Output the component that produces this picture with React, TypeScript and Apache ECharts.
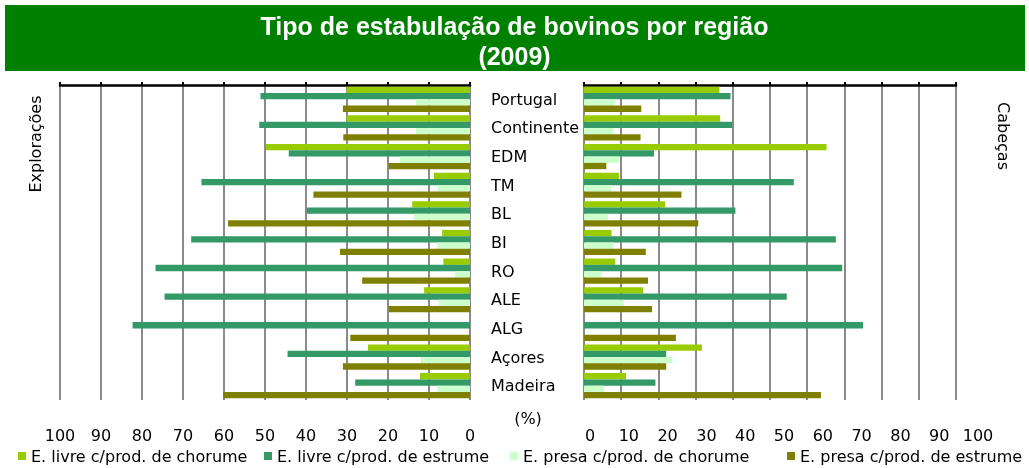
import React, { useEffect, useRef } from "react";
import * as echarts from "echarts";

const categories = ["Portugal", "Continente", "EDM", "TM", "BL", "BI", "RO", "ALE", "ALG", "Açores", "Madeira"];
const seriesNames = [
  "E. livre c/prod. de chorume",
  "E. livre c/prod. de estrume",
  "E. presa c/prod. de chorume",
  "E. presa c/prod. de estrume",
];
const colors = ["#99CC00", "#339966", "#CCFFCC", "#808000"];

// Explorações (left panel)
const exploLivreChorume = [30.1, 30.1, 49.8, 8.8, 14.1, 6.8, 6.5, 11.2, 0, 24.9, 12.2];
const exploLivreEstrume = [51.1, 51.4, 44.2, 65.5, 39.8, 68.0, 76.7, 74.5, 82.3, 44.5, 28.0];
const exploPresaChorume = [13.2, 13.2, 17.1, 7.9, 13.6, 8.0, 3.6, 7.6, 0, 12.0, 8.0];
const exploPresaEstrume = [31.0, 30.9, 19.8, 38.2, 59.0, 31.7, 26.3, 19.8, 29.2, 31.0, 60.2];

// Cabeças (right panel)
const cabLivreChorume = [36.4, 36.6, 65.2, 9.4, 21.8, 7.4, 8.4, 15.9, 0, 31.7, 11.3];
const cabLivreEstrume = [39.4, 39.8, 18.8, 56.4, 40.7, 67.7, 69.4, 54.5, 75.0, 22.1, 19.2];
const cabPresaChorume = [8.4, 8.0, 9.4, 7.4, 6.5, 8.0, 4.6, 10.7, 0, 23.8, 5.4];
const cabPresaEstrume = [15.4, 15.2, 6.0, 26.2, 30.7, 16.6, 17.2, 18.3, 24.7, 22.1, 63.7];

const exploData = [exploLivreChorume, exploLivreEstrume, exploPresaChorume, exploPresaEstrume];
const cabData = [cabLivreChorume, cabLivreEstrume, cabPresaChorume, cabPresaEstrume];

const FONT = "'DejaVu Sans', sans-serif";
const TITLE_FONT = "'Liberation Sans', Arial, sans-serif";
const FS = 16;

export default function App() {
  const ref = useRef<HTMLDivElement>(null);
  useEffect(() => {
    if (!ref.current) return;
    const chart = echarts.init(ref.current, undefined, { renderer: "svg" });
    const topAxis = (gridIndex: number, inverse: boolean) => ({
      type: "value",
      gridIndex,
      position: "top",
      min: 0,
      max: 100,
      interval: 10,
      inverse,
      axisLine: { show: true, lineStyle: { color: "#000", width: 2.5 } },
      axisTick: { show: true, length: 3, lineStyle: { color: "#000", width: 2 } },
      axisLabel: { show: false },
      splitLine: { show: true, lineStyle: { color: "#8a8a8a", width: 2 } },
    });
    const bottomAxis = (gridIndex: number, inverse: boolean) => ({
      type: "value",
      gridIndex,
      position: "bottom",
      offset: 19,
      min: 0,
      max: 100,
      interval: 10,
      inverse,
      axisLine: { show: false },
      axisTick: { show: false },
      splitLine: { show: false },
      axisLabel: { show: true, margin: 8, fontSize: FS, color: "#000", fontFamily: FONT },
    });
    const series: any[] = [];
    seriesNames.forEach((name, i) => {
      series.push({
        name,
        type: "bar",
        xAxisIndex: 0,
        yAxisIndex: 0,
        data: exploData[i],
        itemStyle: { color: colors[i] },
        barGap: "0%",
        barCategoryGap: "12%",
      });
    });
    seriesNames.forEach((name, i) => {
      series.push({
        name,
        type: "bar",
        xAxisIndex: 2,
        yAxisIndex: 1,
        data: cabData[i],
        itemStyle: { color: colors[i] },
        barGap: "0%",
        barCategoryGap: "12%",
      });
    });
    const legendLefts = [13, 259, 505, 782];
    chart.setOption({
      animation: false,
      textStyle: { fontFamily: FONT },
      title: {
        text: "Tipo de estabulação de bovinos por região\n(2009)",
        left: "center",
        top: 6,
        textStyle: { color: "#fff", fontSize: 25, fontWeight: "bold", lineHeight: 30, fontFamily: TITLE_FONT },
      },
      legend: seriesNames.map((name, i) => ({
        data: [name],
        left: legendLefts[i],
        top: 443,
        icon: "rect",
        itemWidth: 8,
        itemHeight: 8,
        textStyle: { fontSize: FS, color: "#000", fontFamily: FONT },
        selectedMode: false,
      })),
      grid: [
        { left: 60, width: 410, top: 85, height: 315 },
        { left: 584, width: 372, top: 85, height: 315 },
        { left: 590, width: 388, top: 85, height: 315 },
      ],
      xAxis: [topAxis(0, true), bottomAxis(0, true), topAxis(1, false), bottomAxis(2, false)],
      yAxis: [
        {
          type: "category",
          gridIndex: 0,
          data: categories,
          inverse: true,
          axisLine: { show: false },
          axisTick: { show: false },
          axisLabel: { show: false },
        },
        {
          type: "category",
          gridIndex: 1,
          data: categories,
          inverse: true,
          axisLine: { show: false },
          axisTick: { show: false },
          axisLabel: { show: true, align: "left", margin: 93, fontSize: FS, color: "#000", fontFamily: FONT },
        },
        { type: "value", gridIndex: 2, show: false, min: 0, max: 1 },
      ],
      graphic: [
        { type: "rect", z: -1, shape: { x: 5, y: 5, width: 1020, height: 66 }, style: { fill: "#008000" } },
        {
          type: "text",
          x: 35,
          y: 144,
          rotation: Math.PI / 2,
          style: { text: "Explorações", fontSize: FS, fill: "#000", align: "center", verticalAlign: "middle", fontFamily: FONT },
        },
        {
          type: "text",
          x: 1003,
          y: 136,
          rotation: -Math.PI / 2,
          style: { text: "Cabeças", fontSize: FS, fill: "#000", align: "center", verticalAlign: "middle", fontFamily: FONT },
        },
        {
          type: "text",
          x: 528,
          y: 418,
          style: { text: "(%)", fontSize: FS, fill: "#000", align: "center", verticalAlign: "middle", fontFamily: FONT },
        },
      ],
      series,
    });
    return () => chart.dispose();
  }, []);
  return <div ref={ref} style={{ position: "fixed", left: 0, top: 0, width: 1029, height: 468 }} />;
}
